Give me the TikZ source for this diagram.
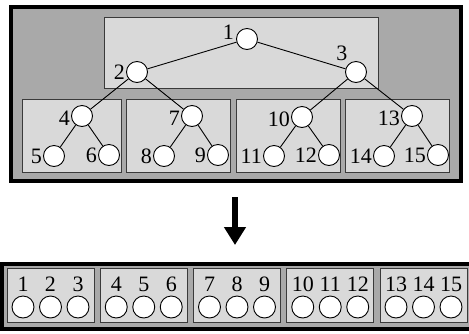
\documentclass[tikz,border=0pt]{standalone}
\usepackage{fontspec}
\setmainfont{Liberation Serif}
\usepackage{xcolor}
\usepackage{tikz}
\usetikzlibrary{arrows.meta}
\definecolor{outerbg}{HTML}{A9A9A9}
\definecolor{panelbg}{HTML}{D9D9D9}
\definecolor{panelline}{HTML}{3A3A3A}
\newcommand\numfont{\fontsize{22}{22}\selectfont}
\tikzset{
  frame/.style={draw=black, fill=outerbg, line width=4pt},
  panel/.style={draw=panelline, fill=panelbg, line width=1pt},
  edge/.style={draw=black, line width=0.9pt},
  vert/.style={circle, draw=black, fill=white, line width=0.9pt, minimum size=21pt, inner sep=0pt},
  slot/.style={circle, draw=black, fill=white, line width=0.9pt, minimum size=22pt, inner sep=0pt},
  num/.style={font=\numfont, text=black, inner sep=0pt},
  bigarrow/.style={draw=black, line width=6pt, -{Triangle[width=21pt,length=18pt]}}
}
\begin{document}
\begin{tikzpicture}[x=1pt, y=-1pt, label distance=1pt]
  \useasboundingbox (0,0) rectangle (469,333);

  % tree, cut into blocks
  \draw[frame] (11,7) rectangle (461,181);
  \draw[panel] (104,17) rectangle (378,88);
  \draw[panel] (22,99) rectangle (121,172);
  \draw[panel] (126,99) rectangle (230,172);
  \draw[panel] (236,99) rectangle (340,172);
  \draw[panel] (345,99) rectangle (449,172);

  \node[vert, label={[num, label distance=2pt, yshift=7pt]left:1}] (t1) at (247,39) {};
  \node[vert, label={[num]left:2}] (t2) at (137,72) {};
  \node[vert, label={[num, yshift=3pt]above left:3}] (t3) at (356,72) {};
  \node[vert, label={[num, yshift=-2pt]left:4}] (t4) at (82,116) {};
  \node[vert, label={[num]left:5}] (t5) at (54,156) {};
  \node[vert, label={[num]left:6}] (t6) at (109,155) {};
  \node[vert, label={[num, yshift=-2pt]left:7}] (t7) at (192,116) {};
  \node[vert, label={[num]left:8}] (t8) at (164,156) {};
  \node[vert, label={[num]left:9}] (t9) at (218,155) {};
  \node[vert, label={[num, yshift=-2pt]left:10}] (t10) at (302,117) {};
  \node[vert, label={[num]left:11}] (t11) at (274,156) {};
  \node[vert, label={[num]left:12}] (t12) at (329,155) {};
  \node[vert, label={[num, yshift=-2pt]left:13}] (t13) at (412,116) {};
  \node[vert, label={[num]left:14}] (t14) at (384,156) {};
  \node[vert, label={[num]left:15}] (t15) at (438,155) {};

  \draw[edge] (t1)--(t2);
  \draw[edge] (t1)--(t3);
  \draw[edge] (t2)--(t4);
  \draw[edge] (t2)--(t7);
  \draw[edge] (t3)--(t10);
  \draw[edge] (t3)--(t13);
  \draw[edge] (t4)--(t5);
  \draw[edge] (t4)--(t6);
  \draw[edge] (t7)--(t8);
  \draw[edge] (t7)--(t9);
  \draw[edge] (t10)--(t11);
  \draw[edge] (t10)--(t12);
  \draw[edge] (t13)--(t14);
  \draw[edge] (t13)--(t15);

  \coordinate (arrTop) at (235,197);
  \coordinate (arrTip) at (235,245);
  \draw[bigarrow] (arrTop)--(arrTip);

  % blocks laid out in a row
  \draw[frame] (2,264) rectangle (471,329);
  \foreach \b in {0,...,4} {
    \draw[panel] ({7+93.25*\b},268) rectangle ++(87,54);
    \foreach \k in {1,2,3} {
      \pgfmathtruncatemacro\n{3*\b+\k}
      \node[slot, label={[num, label distance=4pt]above:\n}] (a\n) at ({23+93.25*\b+27.5*(\k-1)},307) {};
    }
  }
\end{tikzpicture}
\end{document}
